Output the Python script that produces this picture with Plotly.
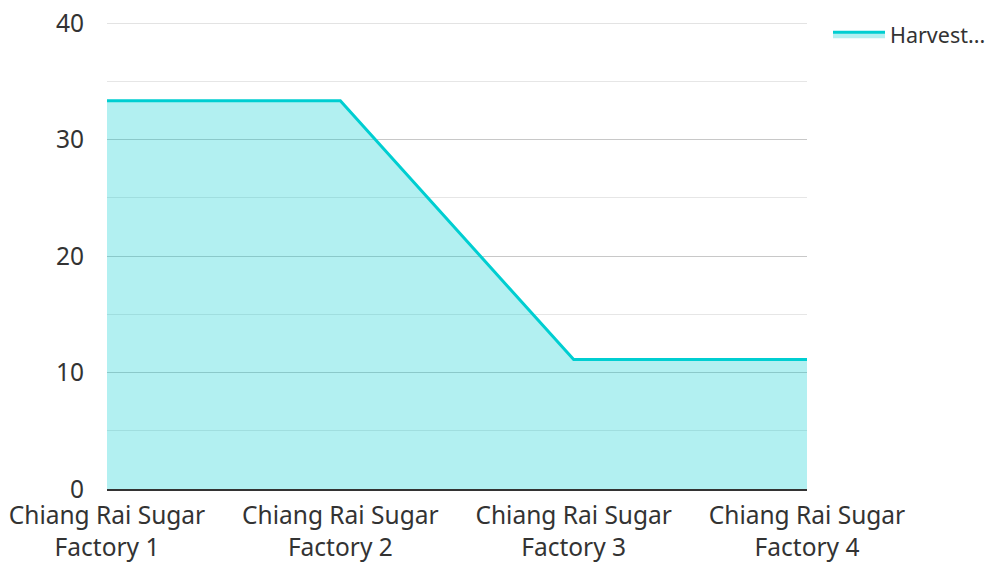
import plotly.graph_objects as go

categories = ["Chiang Rai Sugar<br>Factory 1", "Chiang Rai Sugar<br>Factory 2",
              "Chiang Rai Sugar<br>Factory 3", "Chiang Rai Sugar<br>Factory 4"]
values = [33.33, 33.33, 11.11, 11.11]
series_name = "Harvest..."
y_ticks = [0, 10, 20, 30, 40]

fig = go.Figure()
fig.add_trace(go.Scatter(
    x=categories, y=values, name=series_name, mode="lines",
    line=dict(color="#00CED1", width=3),
    fill="tozeroy", fillcolor="rgba(0,206,209,0.3)",
    showlegend=True,
))

# top gridline at the end of the y range
fig.add_shape(type="line", xref="paper", yref="y", x0=0, x1=1,
              y0=y_ticks[-1], y1=y_ticks[-1],
              line=dict(color="#c8c8c8", width=1), layer="below")

fig.update_layout(
    width=1002, height=562,
    margin=dict(l=107, r=195, t=23, b=73, autoexpand=False),
    plot_bgcolor="white", paper_bgcolor="white",
    font=dict(family="Noto Sans", size=24.5, color="#333333"),
    showlegend=True,
    legend=dict(x=1.03, y=1.02, xanchor="left", yanchor="top",
                itemwidth=52, font=dict(size=21.5, color="#333333"),
                bgcolor="rgba(0,0,0,0)"),
    xaxis=dict(type="category", range=[0, 3], showgrid=False, automargin=False,
               showline=True, linecolor="#333333", linewidth=2,
               ticks="", ticklabelstandoff=4, tickfont=dict(size=24.5)),
    yaxis=dict(range=[0, 40], tickvals=y_ticks, showgrid=True, automargin=False,
               gridcolor="#c8c8c8", gridwidth=1, zeroline=False,
               ticks="", ticklabelstandoff=22,
               minor=dict(dtick=5, showgrid=True, gridcolor="#e6e6e6", gridwidth=1),
               tickfont=dict(size=24.5)),
)

fig.write_html("out.html")
